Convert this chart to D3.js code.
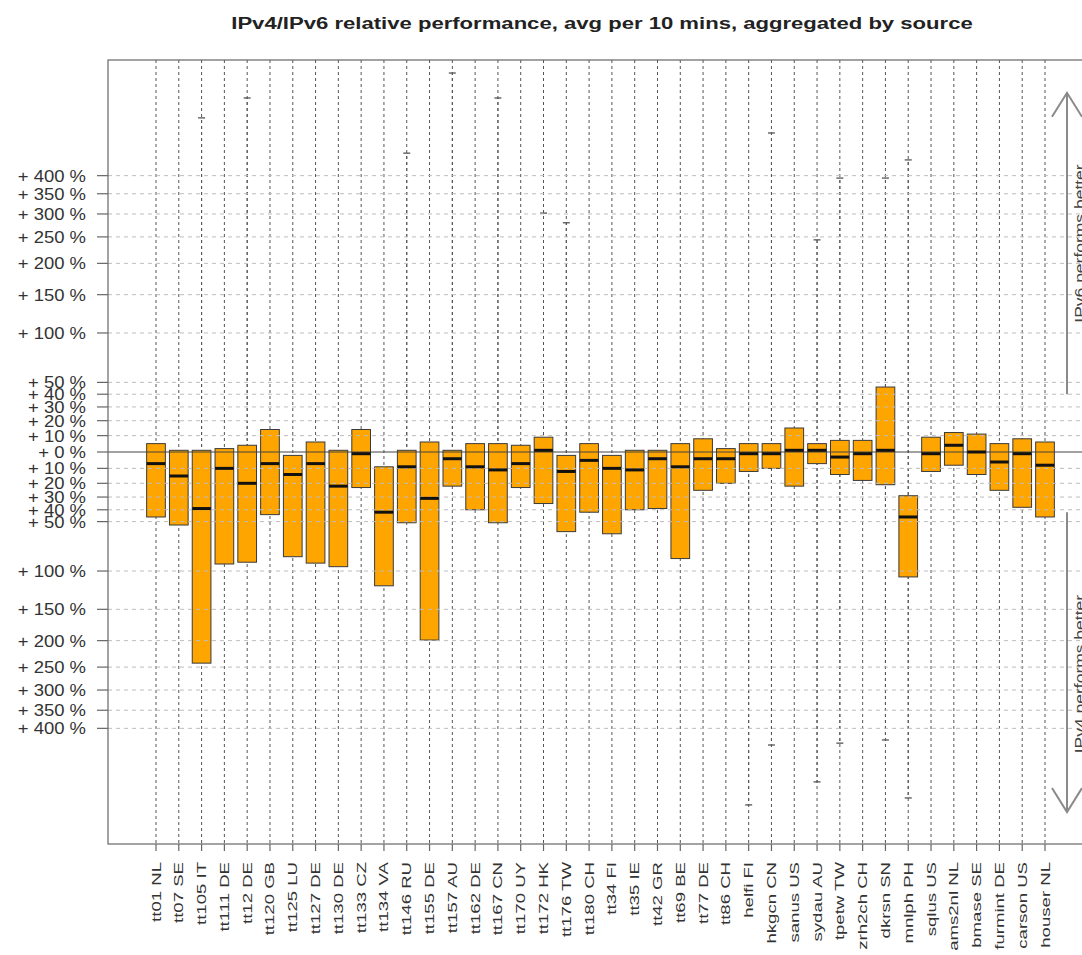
<!DOCTYPE html>
<html>
<head>
<meta charset="utf-8">
<script src="https://cdn.jsdelivr.net/npm/d3@7"></script>
<style>
  html, body { margin: 0; padding: 0; background: #fff; overflow: hidden; }
  svg { display: block; font-family: "Liberation Sans", Arial, Helvetica, sans-serif; }
</style>
</head>
<body>
<svg id="chart" width="1082" height="955"></svg>
<script>
// ---------------- data ----------------
const categories = ["tt01 NL","tt07 SE","tt105 IT","tt111 DE","tt12 DE","tt120 GB","tt125 LU","tt127 DE","tt130 DE","tt133 CZ",
  "tt134 VA","tt146 RU","tt155 DE","tt157 AU","tt162 DE","tt167 CN","tt170 UY","tt172 HK","tt176 TW","tt180 CH",
  "tt34 FI","tt35 IE","tt42 GR","tt69 BE","tt77 DE","tt86 CH","helfi FI","hkgcn CN","sanus US","sydau AU",
  "tpetw TW","zrh2ch CH","dkrsn SN","mnlph PH","sqlus US","ams2nl NL","bmase SE","furmint DE","carson US","houser NL"];

// relative performance in % (positive = IPv6 better, negative = IPv4 better)
const upperQuartile = [5,1,1,2,4,14,-2,6,1,14,-9,1,6,1,5,5,4,9,-2,5,-2,1,1,5,8,2,5,5,15,5,7,7,46,-29,9,12,11,5,8,6];
const medianValues  = [-7,-15,-39,-10,-20,-7,-14,-7,-22,-1,-42,-9,-31,-4,-9,-11,-7,1,-12,-5,-10,-11,-4,-9,-4,-4,-1,-1,1,1,-3,-1,1,-46,-1,4,0,-6,-1,-8];
const lowerQuartile = [-46,-53,-242,-92,-90,-44,-84,-91,-95,-23,-118,-51,-199,-22,-40,-51,-23,-35,-59,-42,-61,-40,-39,-86,-25,-20,-12,-10,-22,-7,-14,-18,-21,-107,-12,-8,-14,-25,-38,-46];
// whisker ends that are visible in the picture (null = hidden in the grid)
const whiskerHigh = [null,null,600,null,686,null,null,null,null,null,null,470,null,809,null,686,null,302,280,null,
  null,null,null,null,null,null,null,541,null,244,393,null,393,448,null,null,null,null,null,null];
const whiskerLow  = [null,null,null,null,null,null,null,null,null,null,null,null,null,null,null,null,null,null,null,null,
  null,null,null,null,null,null,-681,-451,null,-583,-445,null,-435,-650,null,null,null,null,null,null];

const tickValues = [400,350,300,250,200,150,100,50,40,30,20,10,0,-10,-20,-30,-40,-50,-100,-150,-200,-250,-300,-350,-400];
const tickLabels = tickValues.map(v => "+ " + Math.abs(v) + " %");

const titleText = "IPv4/IPv6 relative performance, avg per 10 mins, aggregated by source";
const arrowNotes = [
  {text: "IPv6 performs better", from: 40, to: 710},
  {text: "IPv4 performs better", from: -42, to: -714}
];

// ---------------- layout ----------------
const svg = d3.select("#chart");
const plot = {left: 108, right: 1093, top: 60, bottom: 844};

const tr = v => Math.sign(v) * Math.log(1 + Math.abs(v) / 100);
const T = 2.283;
const yLin = d3.scaleLinear().domain([-T, T]).range([plot.bottom, plot.top]);
const y = v => yLin(tr(v));

const x = d3.scalePoint().domain(categories).range([156, 1045]);
const boxW = x.step() * 0.82;

const data = categories.map((c, i) => ({
  cat: c, q3: upperQuartile[i], med: medianValues[i], q1: lowerQuartile[i],
  hi: whiskerHigh[i], lo: whiskerLow[i]
}));

svg.append("clipPath").attr("id", "pc").append("rect")
  .attr("x", plot.left).attr("y", plot.top)
  .attr("width", plot.right - plot.left).attr("height", plot.bottom - plot.top);

const g = svg.append("g").attr("clip-path", "url(#pc)");
const DASH = "3,3", PERIOD = 6;

// vertical dashed grid at each category
g.selectAll("line.vg").data(categories).enter().append("line")
  .attr("x1", d => x(d)).attr("x2", d => x(d))
  .attr("y1", plot.top).attr("y2", plot.bottom)
  .attr("stroke", "#555").attr("stroke-width", 1).attr("stroke-dasharray", DASH);

// whiskers (dashed, in phase with the grid) and caps
function whisker(cx, ya, yb) {
  const top = Math.min(ya, yb), bot = Math.max(ya, yb);
  g.append("line").attr("x1", cx).attr("x2", cx).attr("y1", top).attr("y2", bot)
    .attr("stroke", "#555").attr("stroke-dasharray", DASH)
    .attr("stroke-dashoffset", (top - plot.top) % PERIOD);
}
data.forEach(d => {
  const cx = x(d.cat);
  if (d.hi !== null) {
    whisker(cx, y(d.hi), y(Math.max(d.q3, d.med)));
    g.append("line").attr("x1", cx - 3.5).attr("x2", cx + 3.5)
      .attr("y1", y(d.hi)).attr("y2", y(d.hi)).attr("stroke", "#555").attr("stroke-width", 1.3);
  }
  if (d.lo !== null) {
    whisker(cx, y(d.q1), y(d.lo));
    g.append("line").attr("x1", cx - 3.5).attr("x2", cx + 3.5)
      .attr("y1", y(d.lo)).attr("y2", y(d.lo)).attr("stroke", "#555").attr("stroke-width", 1.3);
  }
});

// boxes
g.selectAll("rect.box").data(data).enter().append("rect")
  .attr("x", d => x(d.cat) - boxW / 2)
  .attr("y", d => y(d.q3))
  .attr("width", boxW)
  .attr("height", d => y(d.q1) - y(d.q3))
  .attr("fill", "#FFA500").attr("stroke", "#3a3a3a").attr("stroke-width", 1);

// horizontal dashed grid (drawn over boxes)
g.selectAll("line.hg").data(tickValues.filter(v => v !== 0)).enter().append("line")
  .attr("x1", plot.left).attr("x2", plot.right)
  .attr("y1", d => y(d)).attr("y2", d => y(d))
  .attr("stroke", "#bdbdbd").attr("stroke-width", 1).attr("stroke-dasharray", "4,4");

// zero line
g.append("line").attr("x1", plot.left).attr("x2", plot.right)
  .attr("y1", y(0)).attr("y2", y(0)).attr("stroke", "#444").attr("stroke-width", 1.2);

// medians
g.selectAll("line.med").data(data).enter().append("line")
  .attr("x1", d => x(d.cat) - boxW / 2).attr("x2", d => x(d.cat) + boxW / 2)
  .attr("y1", d => y(d.med)).attr("y2", d => y(d.med))
  .attr("stroke", "#111").attr("stroke-width", 3);

// arrows and notes on the right
arrowNotes.forEach(a => {
  const ax = 1067, y0 = y(a.from), y1 = y(a.to);
  const dir = y1 < y0 ? 1 : -1;
  g.append("line").attr("x1", ax).attr("x2", ax).attr("y1", y0).attr("y2", y1)
    .attr("stroke", "#8a8a8a").attr("stroke-width", 2);
  g.append("path")
    .attr("d", `M${ax - 15},${y1 + dir * 24} L${ax},${y1} L${ax + 15},${y1 + dir * 24}`)
    .attr("fill", "none").attr("stroke", "#8a8a8a").attr("stroke-width", 2);
  g.append("text")
    .attr("transform", `translate(1085,${(y0 + y1) / 2 + (dir < 0 ? 12 : 0)}) rotate(-90) scale(1.25,1)`)
    .attr("text-anchor", "middle").attr("font-size", 14).attr("fill", "#444")
    .text(a.text);
});

// plot border
svg.append("rect").attr("x", plot.left).attr("y", plot.top)
  .attr("width", plot.right - plot.left).attr("height", plot.bottom - plot.top)
  .attr("fill", "none").attr("stroke", "#666").attr("stroke-width", 1.2);

// y axis ticks + labels
const yAxis = svg.append("g");
tickValues.forEach((v, i) => {
  yAxis.append("line").attr("x1", plot.left - 11).attr("x2", plot.left)
    .attr("y1", y(v)).attr("y2", y(v)).attr("stroke", "#666").attr("stroke-width", 1.2);
  yAxis.append("text")
    .attr("transform", `translate(86,${y(v)}) scale(1.12,1)`)
    .attr("dy", "0.36em").attr("text-anchor", "end")
    .attr("font-size", 16.5).attr("fill", "#333")
    .text(tickLabels[i]);
});

// x axis ticks + labels
const xAxis = svg.append("g");
categories.forEach(c => {
  xAxis.append("line").attr("x1", x(c)).attr("x2", x(c))
    .attr("y1", plot.bottom).attr("y2", plot.bottom + 7)
    .attr("stroke", "#666").attr("stroke-width", 1.2);
  xAxis.append("text")
    .attr("transform", `translate(${x(c) + 4.5},862) rotate(-90) scale(1.43,1)`)
    .attr("text-anchor", "end").attr("font-size", 13).attr("fill", "#333")
    .text(c);
});

// title, fitted to the width seen in the reference
const title = svg.append("text")
  .attr("x", 602).attr("y", 29).attr("text-anchor", "middle")
  .attr("font-weight", "bold").attr("font-size", 17).attr("fill", "#222")
  .text(titleText);
const w = title.node().getComputedTextLength();
title.attr("transform", `translate(602,0) scale(${742 / w},1) translate(-602,0)`);
</script>
</body>
</html>
